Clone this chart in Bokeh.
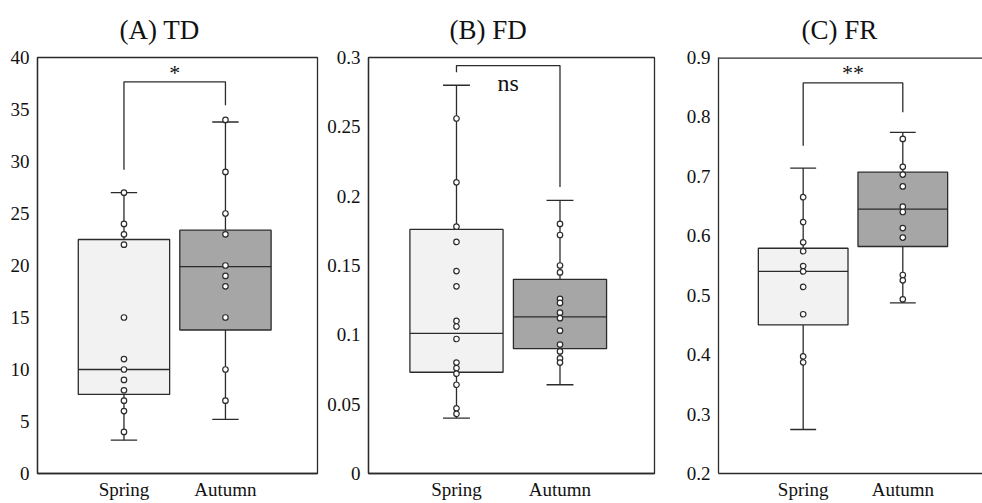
from bokeh.plotting import figure
from bokeh.layouts import row
from bokeh.models import FixedTicker, Span, Title, ColumnDataSource, CustomJSTickFormatter
from bokeh.embed import file_html
from bokeh.resources import INLINE
from bokeh.core.properties import value

FONT = "Liberation Serif"
INK = "#2b2b2b"

# ---------------- data ----------------
seasons = ["Spring", "Autumn"]
season_x = [1, 2]
box_fill = ["#f2f2f2", "#a6a6a6"]

# (A) TD
td_spring_pts = [27, 24, 23, 22, 15, 11, 10, 9, 8, 7, 6, 4]
td_autumn_pts = [34, 29, 25, 23, 20, 19, 18, 15, 10, 7]
td_lower = [3.2, 5.2]
td_q1 = [7.6, 13.8]
td_median = [10.0, 19.9]
td_q3 = [22.5, 23.4]
td_upper = [27.0, 33.8]
td_bracket = [29.2, 37.66, 35.4]   # left leg bottom, bar, right leg bottom
td_sig = "*"
td_sig_y = 38.6
td_yticks = [0, 5, 10, 15, 20, 25, 30, 35, 40]

# (B) FD
fd_spring_pts = [0.256, 0.210, 0.178, 0.167, 0.146, 0.135, 0.110, 0.106, 0.097,
                 0.080, 0.076, 0.072, 0.064, 0.047, 0.043]
fd_autumn_pts = [0.180, 0.172, 0.150, 0.145, 0.126, 0.123, 0.116, 0.112, 0.103,
                 0.093, 0.088, 0.083, 0.080]
fd_lower = [0.040, 0.064]
fd_q1 = [0.073, 0.090]
fd_median = [0.101, 0.113]
fd_q3 = [0.176, 0.140]
fd_upper = [0.280, 0.197]
fd_bracket = [0.2894, 0.2942, 0.2067]
fd_sig = "ns"
fd_sig_y = 0.2815
fd_yticks = [0, 0.05, 0.1, 0.15, 0.2, 0.25, 0.3]

# (C) FR
fr_spring_pts = [0.665, 0.623, 0.589, 0.574, 0.549, 0.540, 0.514, 0.468, 0.397, 0.387]
fr_autumn_pts = [0.763, 0.716, 0.703, 0.683, 0.649, 0.640, 0.613, 0.597, 0.534,
                 0.525, 0.493]
fr_lower = [0.274, 0.487]
fr_q1 = [0.450, 0.582]
fr_median = [0.540, 0.645]
fr_q3 = [0.579, 0.707]
fr_upper = [0.714, 0.774]
fr_bracket = [0.7516, 0.8573, 0.8077]
fr_sig = "**"
fr_sig_y = 0.8745
fr_yticks = [0.2, 0.3, 0.4, 0.5, 0.6, 0.7, 0.8, 0.9]

BOX_W = 0.9
CAP_W = 0.26


def panel(title, title_offset, spring_pts, autumn_pts, lower, q1, med, q3, upper,
          bracket, sig, sig_y, sig_size, yticks, yr, xr, width,
          mb_left, mb_right, outline=True):
    p = figure(width=width, height=503, x_range=xr, y_range=yr,
               output_backend="svg", toolbar_location=None,
               min_border_left=mb_left, min_border_right=mb_right,
               min_border_top=57, min_border_bottom=30)
    p.background_fill_color = "white"
    p.border_fill_color = "white"
    p.xgrid.visible = False
    p.ygrid.visible = False
    if outline:
        p.outline_line_color = INK
        p.outline_line_width = 1.3
        p.outline_line_alpha = 1.0
    else:
        p.outline_line_color = None
        p.add_layout(Span(location=yr[1], dimension="width", line_color=INK,
                          line_width=2.4))

    t = Title(text=title, align="left", offset=title_offset, text_font=FONT,
              text_font_size="27px", text_font_style="normal", text_color="#111",
              standoff=25)
    p.add_layout(t, "above")

    for ax in (p.xaxis, p.yaxis):
        ax.major_tick_line_color = None
        ax.minor_tick_line_color = None
        ax.major_tick_out = 0
        ax.major_tick_in = 0
        ax.minor_tick_out = 0
        ax.minor_tick_in = 0
        ax.axis_line_color = INK
        ax.axis_line_width = 1.3
        ax.major_label_text_font = FONT
        ax.major_label_text_font_size = "19px"
        ax.major_label_text_color = "#111"
    p.yaxis.ticker = FixedTicker(ticks=yticks)
    p.yaxis.formatter = CustomJSTickFormatter(
        code="return String(Number(tick.toFixed(2)));")
    p.yaxis.major_label_standoff = 8
    p.xaxis.ticker = FixedTicker(ticks=season_x)
    p.xaxis.formatter = CustomJSTickFormatter(
        args=dict(labels=seasons), code="return labels[Math.round(tick) - 1] || '';")
    p.xaxis.major_label_standoff = 5

    src = ColumnDataSource(dict(
        x=season_x,
        left=[x - BOX_W / 2 for x in season_x],
        right=[x + BOX_W / 2 for x in season_x],
        cl=[x - CAP_W / 2 for x in season_x],
        cr=[x + CAP_W / 2 for x in season_x],
        lower=lower, q1=q1, med=med, q3=q3, upper=upper, fill=box_fill))

    # whiskers
    p.segment(x0="x", y0="q3", x1="x", y1="upper", source=src, line_color=INK, line_width=1.3)
    p.segment(x0="x", y0="lower", x1="x", y1="q1", source=src, line_color=INK, line_width=1.3)
    p.segment(x0="cl", y0="upper", x1="cr", y1="upper", source=src, line_color=INK, line_width=1.3)
    p.segment(x0="cl", y0="lower", x1="cr", y1="lower", source=src, line_color=INK, line_width=1.3)
    # boxes
    p.quad(left="left", right="right", bottom="q1", top="q3", source=src,
           fill_color="fill", line_color=INK, line_width=1.3)
    p.segment(x0="left", y0="med", x1="right", y1="med", source=src,
              line_color=INK, line_width=1.3)
    # points
    for x, pts in zip(season_x, (spring_pts, autumn_pts)):
        p.scatter(x=[x] * len(pts), y=pts, size=5.5, fill_color="white",
                  line_color=INK, line_width=1.2)

    # significance bracket
    p.line(x=[season_x[0], season_x[0], season_x[1], season_x[1]],
           y=[bracket[0], bracket[1], bracket[1], bracket[2]],
           line_color=INK, line_width=1.3)
    p.text(x=[(season_x[0] + season_x[1]) / 2], y=[sig_y], text=[sig],
           text_font=value(FONT), text_font_size=sig_size, text_align="center",
           text_baseline="alphabetic", text_color="#111")
    return p


pA = panel("(A) TD", 82, td_spring_pts, td_autumn_pts, td_lower, td_q1, td_median,
           td_q3, td_upper, td_bracket, td_sig, td_sig_y, "22px",
           td_yticks, (0, 40), (0.148, 2.907), 322, 37, 5)
pB = panel("(B) FD", 81, fd_spring_pts, fd_autumn_pts, fd_lower, fd_q1, fd_median,
           fd_q3, fd_upper, fd_bracket, fd_sig, fd_sig_y, "24px",
           fd_yticks, (0, 0.3), (0.150, 2.913), 361, 46, 29)
pC = panel("(C) FR", 83, fr_spring_pts, fr_autumn_pts, fr_lower, fr_q1, fr_median,
           fr_q3, fr_upper, fr_bracket, fr_sig, fr_sig_y, "22px",
           fr_yticks, (0.2, 0.9), (0.15, 2.80), 299, 34, 0, outline=False)

layout = row(pA, pB, pC)
open("out.html", "w").write(file_html(layout, INLINE))
